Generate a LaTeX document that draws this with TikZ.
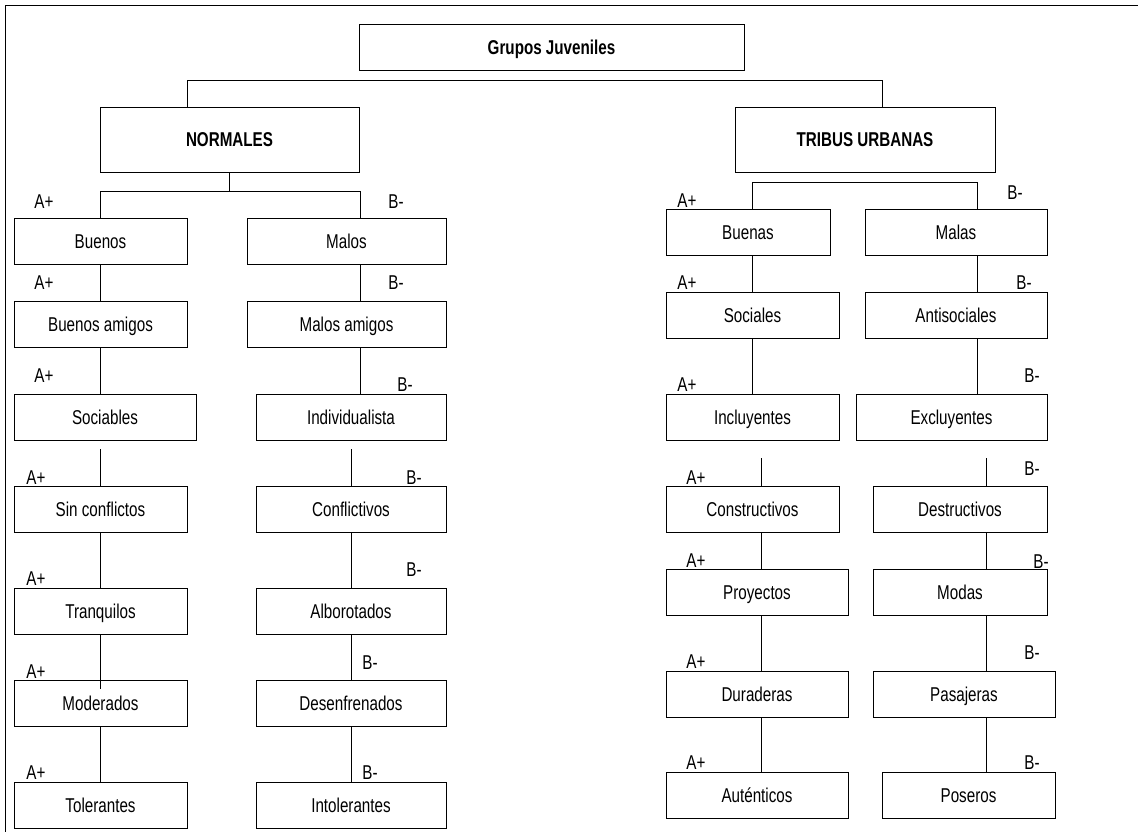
\documentclass[tikz,border=0pt]{standalone}
\usepackage{fontspec}
\setmainfont{Liberation Sans}[FakeStretch=0.76]
\usetikzlibrary{positioning}

\begin{document}
\begin{tikzpicture}[x=1pt,y=1pt,line width=.9pt,
  every node/.style={font=\fontsize{20}{24}\selectfont},
  box/.style={draw,rectangle,inner sep=0,minimum height=46,text height=14.3pt,text depth=0pt},
  tag/.style={anchor=west,inner sep=0}]
\useasboundingbox(0,0)rectangle(1138,-832);
\draw(5,-832)--(5,-5)--(1138,-5);
% columns and buses
\coordinate(cNL)at(187,0);
\coordinate(cNR)at(882,0);
\coordinate(busTop)at(0,-80);
\coordinate(busN)at(0,-191);
\coordinate(busT)at(0,-182);
\coordinate(gapN)at(0,-449);
\coordinate(gapT)at(0,-458);
\coordinate(cA)at(100,0);
\coordinate(cB)at(360,0);
\coordinate(cB2)at(351,0);
\coordinate(cC)at(752,0);
\coordinate(cD)at(977,0);
\coordinate(cC2)at(761,0);
\coordinate(cD2)at(986,0);
% top
\node[box,minimum width=385](grupos)at(551.5,-47){\bfseries Grupos Juveniles};
\node[box,minimum width=259,minimum height=65](normales)at(229.5,-139.5){\bfseries NORMALES};
\node[box,minimum width=260,minimum height=65](tribus)at(865,-139.5){\bfseries TRIBUS URBANAS};
% normales
\node[box,minimum width=173](buenos)at(100.5,-241){Buenos};
\node[box,minimum width=199](malos)at(346.5,-241){Malos};
\node[box,minimum width=173](bamigos)at(100.5,-324.5){Buenos amigos};
\node[box,minimum width=199](mamigos)at(346.5,-324.5){Malos amigos};
\node[box,minimum width=182](sociables)at(105,-417){Sociables};
\node[box,minimum width=190](individualista)at(351,-417){Individualista};
\node[box,minimum width=173](sinconf)at(100.5,-509){Sin conflictos};
\node[box,minimum width=190](conflictivos)at(351,-509){Conflictivos};
\node[box,minimum width=173](tranquilos)at(100.5,-611){Tranquilos};
\node[box,minimum width=190](alborotados)at(351,-611){Alborotados};
\node[box,minimum width=173](moderados)at(100.5,-703){Moderados};
\node[box,minimum width=190](desenfrenados)at(351,-703){Desenfrenados};
\node[box,minimum width=173](tolerantes)at(100.5,-805){Tolerantes};
\node[box,minimum width=190](intolerantes)at(351,-805){Intolerantes};
% tribus urbanas
\node[box,minimum width=164](buenas)at(748,-232){Buenas};
\node[box,minimum width=182](malas)at(956,-232){Malas};
\node[box,minimum width=173](sociales)at(752.5,-315.5){Sociales};
\node[box,minimum width=182](antisociales)at(956,-315.5){Antisociales};
\node[box,minimum width=173](incluyentes)at(752.5,-417){Incluyentes};
\node[box,minimum width=191](excluyentes)at(951.5,-417){Excluyentes};
\node[box,minimum width=173](constructivos)at(752.5,-509){Constructivos};
\node[box,minimum width=174](destructivos)at(960,-509){Destructivos};
\node[box,minimum width=182](proyectos)at(757,-592.5){Proyectos};
\node[box,minimum width=174](modas)at(960,-592.5){Modas};
\node[box,minimum width=182](duraderas)at(757,-694){Duraderas};
\node[box,minimum width=182](pasajeras)at(964,-694){Pasajeras};
\node[box,minimum width=182](autenticos)at(757,-795){Auténticos};
\node[box,minimum width=173](poseros)at(968.5,-795){Poseros};
% connectors
\draw(normales.north-|cNL)--(cNL|-busTop)--(cNR|-busTop)--(tribus.north-|cNR);
\draw(normales.south)--(normales.south|-busN);
\draw(buenos.north)--(buenos.north|-busN)--(cB|-busN)--(malos.north-|cB);
\draw(buenas.north-|cC)--(cC|-busT)--(cD|-busT)--(malas.north-|cD);
\draw(buenos.south-|cA)--(bamigos.north-|cA);
\draw(bamigos.south-|cA)--(sociables.north-|cA);
\draw(cA|-gapN)--(sinconf.north-|cA);
\draw(sinconf.south-|cA)--(tranquilos.north-|cA);
\draw(tranquilos.south-|cA)--([yshift=-9pt]moderados.north-|cA);
\draw(moderados.south-|cA)--(tolerantes.north-|cA);
\draw(malos.south-|cB)--(mamigos.north-|cB);
\draw(mamigos.south-|cB)--(individualista.north-|cB);
\draw(cB2|-gapN)--(conflictivos.north-|cB2);
\draw(conflictivos.south-|cB2)--(alborotados.north-|cB2);
\draw(alborotados.south-|cB2)--(desenfrenados.north-|cB2);
\draw(desenfrenados.south-|cB2)--(intolerantes.north-|cB2);
\draw(buenas.south-|cC)--(sociales.north-|cC);
\draw(sociales.south-|cC)--(incluyentes.north-|cC);
\draw(cC2|-gapT)--(constructivos.north-|cC2);
\draw(constructivos.south-|cC2)--(proyectos.north-|cC2);
\draw(proyectos.south-|cC2)--(duraderas.north-|cC2);
\draw(duraderas.south-|cC2)--(autenticos.north-|cC2);
\draw(malas.south-|cD)--(antisociales.north-|cD);
\draw(antisociales.south-|cD)--(excluyentes.north-|cD);
\draw(cD2|-gapT)--(destructivos.north-|cD2);
\draw(destructivos.south-|cD2)--(modas.north-|cD2);
\draw(modas.south-|cD2)--(pasajeras.north-|cD2);
\draw(pasajeras.south-|cD2)--(poseros.north-|cD2);
% A+ / B- tags
\node[tag](a1)at(34,-202){A+};
\node[tag](a2)at(34,-283){A+};
\node[tag](a3)at(34,-376){A+};
\node[tag](a4)at(26,-478){A+};
\node[tag](a5)at(26,-579){A+};
\node[tag](a6)at(26,-672){A+};
\node[tag](a7)at(26,-773){A+};
\node[tag](b1)at(388,-202){B-};
\node[tag](b2)at(388,-283){B-};
\node[tag](b3)at(397,-385){B-};
\node[tag](b4)at(406,-478){B-};
\node[tag](b5)at(406,-570){B-};
\node[tag](b6)at(362,-663){B-};
\node[tag](b7)at(362,-773){B-};
\node[tag](ta1)at(677,-201){A+};
\node[tag](ta2)at(677,-283){A+};
\node[tag](ta3)at(677,-385){A+};
\node[tag](ta4)at(686,-478){A+};
\node[tag](ta5)at(686,-561){A+};
\node[tag](ta6)at(686,-662){A+};
\node[tag](ta7)at(686,-763){A+};
\node[tag](tb1)at(1007,-193){B-};
\node[tag](tb2)at(1016,-283){B-};
\node[tag](tb3)at(1024,-376){B-};
\node[tag](tb4)at(1024,-469){B-};
\node[tag](tb5)at(1033,-562){B-};
\node[tag](tb6)at(1024,-653){B-};
\node[tag](tb7)at(1024,-763){B-};
\end{tikzpicture}
\end{document}
